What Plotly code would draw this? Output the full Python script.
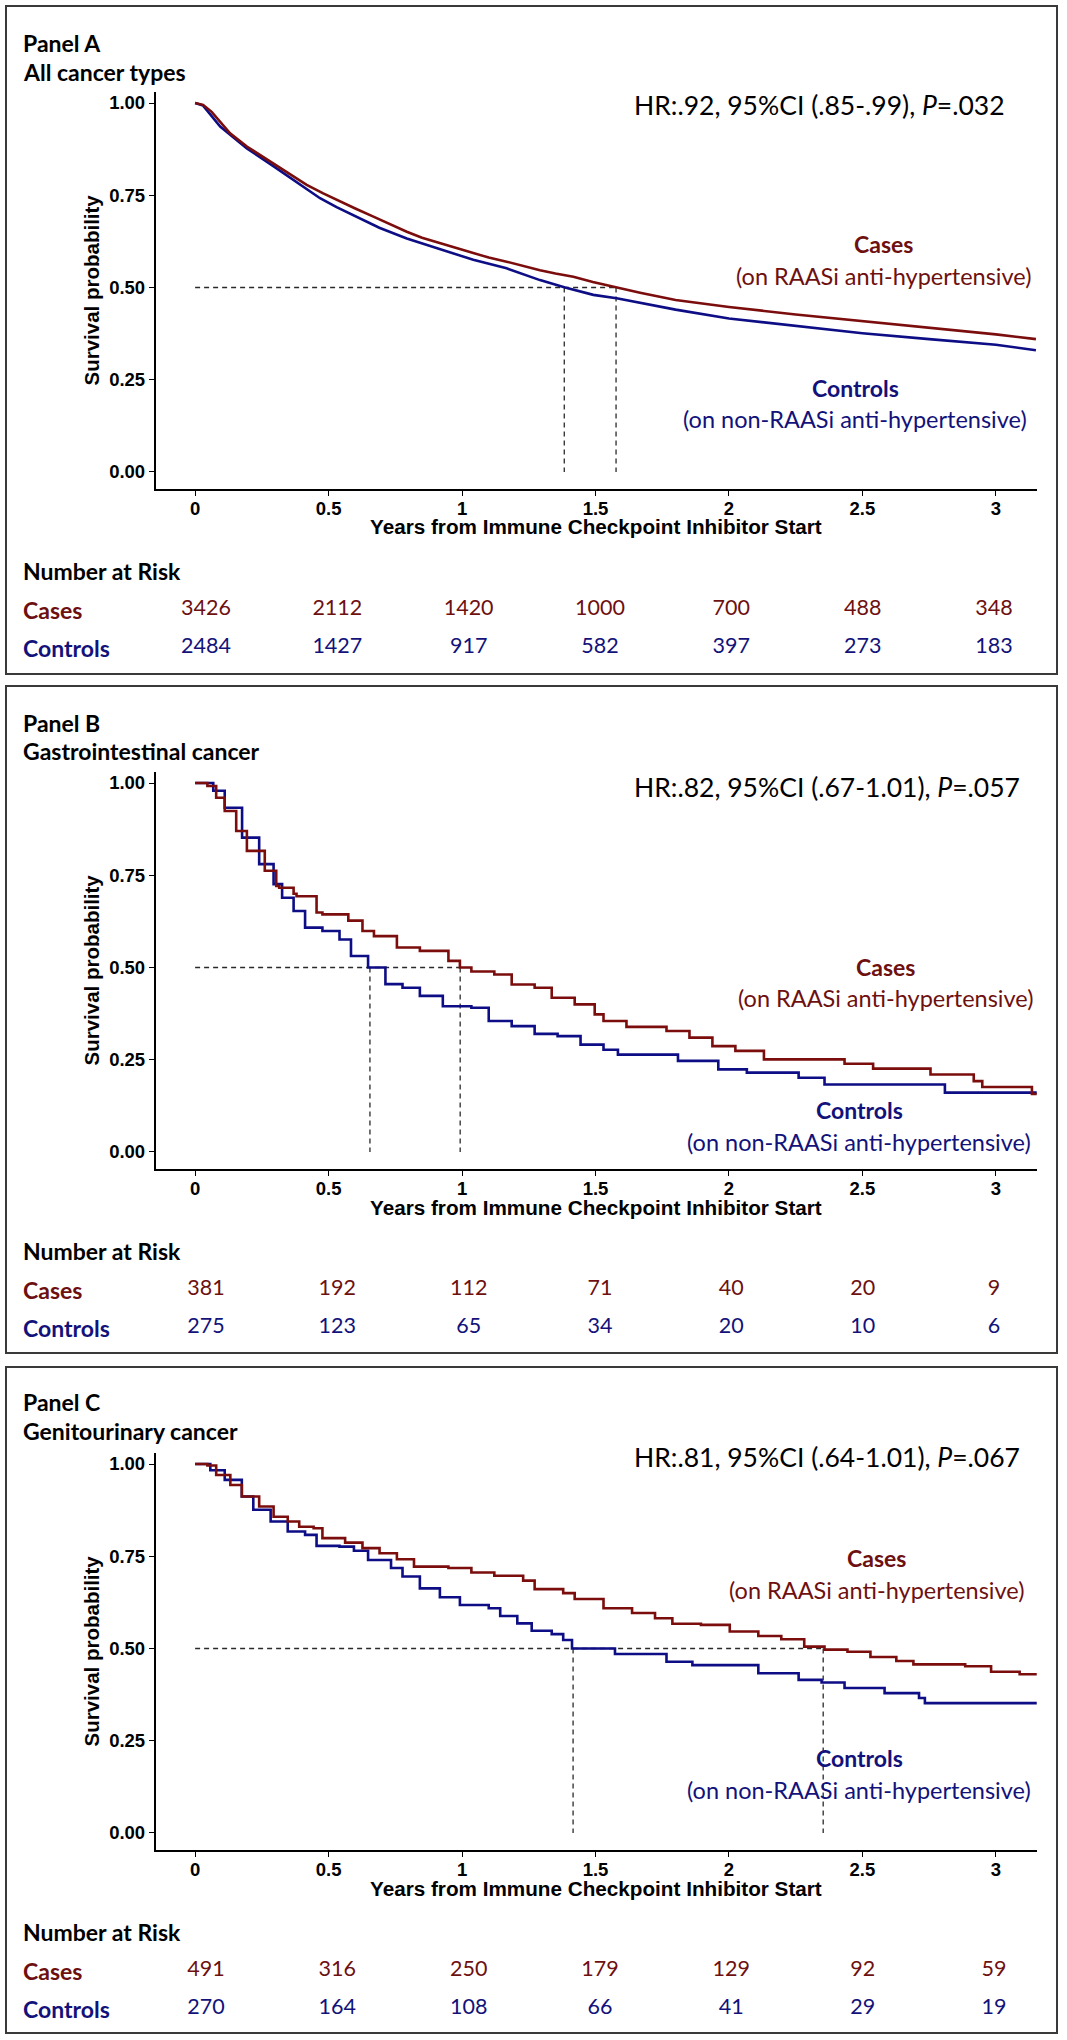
import plotly.graph_objects as go

W, H = 1067, 2040

# ---------------- data ----------------
panel_titles = ["Panel A", "Panel B", "Panel C"]
panel_subtitles = ["All cancer types", "Gastrointestinal cancer", "Genitourinary cancer"]
hr_texts = ["HR:.92, 95%CI (.85-.99), <i>P</i>=.032",
            "HR:.82, 95%CI (.67-1.01), <i>P</i>=.057",
            "HR:.81, 95%CI (.64-1.01), <i>P</i>=.067"]
group_names = ["Cases", "Controls"]
group_desc = ["(on RAASi anti-hypertensive)", "(on non-RAASi anti-hypertensive)"]

x_ticks = [0, 0.5, 1, 1.5, 2, 2.5, 3]
x_ticklabels = ["0", "0.5", "1", "1.5", "2", "2.5", "3"]
y_ticks = [0, 0.25, 0.5, 0.75, 1.0]
y_ticklabels = ["0.00", "0.25", "0.50", "0.75", "1.00"]
risk_times = [0, 0.5, 1, 1.5, 2, 2.5, 3]

# Panel A (all cancer types)
a_cases_t = [0, 0.03, 0.062, 0.10, 0.131, 0.194, 0.25, 0.293, 0.35, 0.418, 0.48, 0.543, 0.60, 0.668,
             0.73, 0.793, 0.85, 0.918, 0.98, 1.042, 1.10, 1.167, 1.23, 1.292, 1.35, 1.417, 1.49,
             1.567, 1.62, 1.667, 1.8, 2.0, 2.25, 2.5, 2.75, 3.0, 3.15]
a_cases_s = [1.0, 0.995, 0.976, 0.945, 0.918, 0.882, 0.856, 0.837, 0.81, 0.778, 0.755, 0.733, 0.714, 0.692,
             0.671, 0.651, 0.635, 0.620, 0.606, 0.593, 0.581, 0.570, 0.558, 0.547, 0.538, 0.529, 0.515,
             0.502, 0.494, 0.486, 0.466, 0.447, 0.427, 0.409, 0.39, 0.373, 0.36]
a_ctrl_t = [0, 0.03, 0.094, 0.194, 0.293, 0.38, 0.468, 0.53, 0.593, 0.69, 0.793, 0.92, 1.042, 1.167,
            1.292, 1.386, 1.492, 1.579, 1.66, 1.8, 2.0, 2.25, 2.5, 2.75, 3.0, 3.15]
a_ctrl_s = [1.0, 0.993, 0.936, 0.877, 0.829, 0.785, 0.742, 0.718, 0.696, 0.662, 0.633, 0.603, 0.575, 0.552,
            0.520, 0.500, 0.480, 0.471, 0.459, 0.44, 0.416, 0.395, 0.376, 0.36, 0.345, 0.33]
a_medians = [1.383, 1.577]
a_risk_cases = [3426, 2112, 1420, 1000, 700, 488, 348]
a_risk_ctrl = [2484, 1427, 917, 582, 397, 273, 183]

# Panel B (gastrointestinal)
b_cases_t = [0, 0.046, 0.079, 0.111, 0.154, 0.194, 0.261, 0.304, 0.315, 0.369, 0.38, 0.455, 0.477, 0.574,
             0.627, 0.670, 0.756, 0.842, 0.949, 0.992, 1.035, 1.121, 1.186, 1.272, 1.336, 1.422, 1.497,
             1.530, 1.616, 1.766, 1.852, 1.938, 2.024, 2.131, 2.433, 2.540, 2.755, 2.917, 2.949, 3.135, 3.153]
b_cases_s = [1.0, 0.992, 0.960, 0.924, 0.870, 0.816, 0.762, 0.721, 0.716, 0.700, 0.693, 0.649, 0.644, 0.627,
             0.599, 0.585, 0.554, 0.545, 0.518, 0.500, 0.489, 0.481, 0.454, 0.445, 0.418, 0.400, 0.373,
             0.355, 0.339, 0.328, 0.310, 0.287, 0.274, 0.251, 0.239, 0.226, 0.210, 0.192, 0.176, 0.157, 0.157]
b_ctrl_t = [0, 0.068, 0.111, 0.176, 0.240, 0.294, 0.326, 0.369, 0.412, 0.477, 0.541, 0.584, 0.648, 0.713,
            0.777, 0.842, 0.928, 1.035, 1.100, 1.186, 1.272, 1.358, 1.444, 1.530, 1.584, 1.809, 1.960,
            2.067, 2.261, 2.358, 2.809, 3.153]
b_ctrl_s = [1.0, 0.979, 0.933, 0.852, 0.780, 0.726, 0.689, 0.653, 0.608, 0.599, 0.576, 0.531, 0.500, 0.455,
            0.445, 0.423, 0.395, 0.391, 0.355, 0.341, 0.320, 0.314, 0.291, 0.277, 0.264, 0.247, 0.224,
            0.215, 0.201, 0.183, 0.161, 0.161]
b_medians = [0.655, 0.993]
b_risk_cases = [381, 192, 112, 71, 40, 20, 9]
b_risk_ctrl = [275, 123, 65, 34, 20, 10, 6]

# Panel C (genitourinary)
c_cases_t = [0, 0.046, 0.079, 0.132, 0.175, 0.240, 0.294, 0.347, 0.390, 0.444, 0.477, 0.562, 0.627, 0.691,
             0.756, 0.820, 0.949, 1.035, 1.121, 1.229, 1.272, 1.379, 1.422, 1.530, 1.637, 1.723, 1.788,
             1.895, 2.003, 2.110, 2.196, 2.282, 2.358, 2.444, 2.530, 2.627, 2.691, 2.885, 2.982, 3.089, 3.153]
c_cases_s = [1.0, 0.996, 0.970, 0.943, 0.912, 0.885, 0.857, 0.844, 0.830, 0.826, 0.799, 0.787, 0.772, 0.758,
             0.742, 0.722, 0.718, 0.706, 0.697, 0.684, 0.661, 0.650, 0.634, 0.609, 0.596, 0.582, 0.567,
             0.564, 0.546, 0.534, 0.525, 0.505, 0.497, 0.491, 0.477, 0.466, 0.457, 0.452, 0.437, 0.430, 0.430]
c_ctrl_t = [0, 0.057, 0.111, 0.175, 0.218, 0.283, 0.347, 0.412, 0.455, 0.541, 0.595, 0.648, 0.734, 0.777,
            0.842, 0.917, 0.992, 1.100, 1.143, 1.207, 1.261, 1.336, 1.379, 1.412, 1.573, 1.766, 1.863,
            2.110, 2.261, 2.347, 2.433, 2.583, 2.712, 2.734, 3.153]
c_ctrl_s = [1.0, 0.983, 0.957, 0.912, 0.876, 0.844, 0.817, 0.808, 0.778, 0.776, 0.765, 0.740, 0.718, 0.695,
            0.663, 0.639, 0.618, 0.609, 0.588, 0.568, 0.548, 0.539, 0.523, 0.500, 0.485, 0.464, 0.455,
            0.433, 0.415, 0.408, 0.393, 0.379, 0.366, 0.352, 0.352]
c_medians = [1.416, 2.353]
c_risk_cases = [491, 316, 250, 179, 129, 92, 59]
c_risk_ctrl = [270, 164, 108, 66, 41, 29, 19]

panels = [
    dict(ct=a_cases_t, cs=a_cases_s, kt=a_ctrl_t, ks=a_ctrl_s, med=a_medians,
         rc=a_risk_cases, rk=a_risk_ctrl, shape="linear"),
    dict(ct=b_cases_t, cs=b_cases_s, kt=b_ctrl_t, ks=b_ctrl_s, med=b_medians,
         rc=b_risk_cases, rk=b_risk_ctrl, shape="hv"),
    dict(ct=c_cases_t, cs=c_cases_s, kt=c_ctrl_t, ks=c_ctrl_s, med=c_medians,
         rc=c_risk_cases, rk=c_risk_ctrl, shape="hv"),
]

# ---------------- style / layout ----------------
CAL = "Lato, Carlito, Calibri, sans-serif"
ARIAL = "Liberation Sans, Arial, sans-serif"
CASE_LINE = "#7b0d0d"
CTRL_LINE = "#0d0d85"
CASE_TXT = "#6e1010"
CTRL_TXT = "#12127a"

panel_top = [6, 686, 1367]
panel_bottom = [674, 1353, 2033]
heading_y = [(43, 72), (723, 751), (1402, 1431)]
hr_y = [105, 787, 1457]
case_lab = [(883, 244, 276), (885, 967, 998), (876, 1558, 1590)]
ctrl_lab = [(855, 388, 419), (859, 1110, 1142), (859, 1758, 1790)]

X_LEFT, X_RIGHT = 155.6, 1037.0
X_RANGE = [-0.148, 3.154]
TBL_RANGE = [-0.1919, 3.1637]


def px(x):
    return x / W


def py(y):
    return 1 - y / H


fig = go.Figure()
layout = dict(width=W, height=H, margin=dict(l=0, r=0, t=0, b=0),
              paper_bgcolor="white", plot_bgcolor="white", showlegend=False,
              annotations=[], shapes=[])

tickfont = dict(family=ARIAL, size=18.5, color="black", weight="bold")

for i, p in enumerate(panels):
    T = panel_top[i]
    xa, ya = f"x{i + 1}", f"y{i + 1}"
    xt, yt = f"x{i + 4}", f"y{i + 4}"

    # main axes
    layout[f"xaxis{i + 1}"] = dict(
        domain=[px(X_LEFT), px(X_RIGHT)], anchor=ya, range=X_RANGE,
        tickvals=x_ticks, ticktext=x_ticklabels, showline=True, linecolor="black", linewidth=1.5,
        ticks="outside", ticklen=5, tickwidth=1.3, tickcolor="black", ticklabelstandoff=-3,
        tickfont=tickfont, showgrid=False, zeroline=False, fixedrange=True)
    layout[f"yaxis{i + 1}"] = dict(
        domain=[py(T + 483), py(T + 86)], anchor=xa, range=[-0.0461, 1.0298],
        tickvals=y_ticks, ticktext=y_ticklabels, showline=True, linecolor="black", linewidth=1.5,
        ticks="outside", ticklen=5, tickwidth=1.3, tickcolor="black",
        tickfont=tickfont, showgrid=False, zeroline=False, fixedrange=True)
    # risk-table axes
    layout[f"xaxis{i + 4}"] = dict(domain=[px(X_LEFT), px(X_RIGHT)], anchor=yt, range=TBL_RANGE,
                                   visible=False, fixedrange=True)
    layout[f"yaxis{i + 4}"] = dict(domain=[py(T + 661), py(T + 585)], anchor=xt, range=[0, 2],
                                   visible=False, fixedrange=True)

    # curves
    fig.add_trace(go.Scatter(x=p["kt"], y=p["ks"], mode="lines", xaxis=xa, yaxis=ya,
                             line=dict(color=CTRL_LINE, width=2.6, shape=p["shape"]), hoverinfo="skip"))
    fig.add_trace(go.Scatter(x=p["ct"], y=p["cs"], mode="lines", xaxis=xa, yaxis=ya,
                             line=dict(color=CASE_LINE, width=2.6, shape=p["shape"]), hoverinfo="skip"))

    # median lines
    dash = dict(color="#2a2a2a", width=1.3, dash="5px,4px")
    layout["shapes"].append(dict(type="line", xref=xa, yref=ya, x0=0, x1=max(p["med"]), y0=0.5, y1=0.5,
                                 line=dash, layer="below"))
    for m in p["med"]:
        layout["shapes"].append(dict(type="line", xref=xa, yref=ya, x0=m, x1=m, y0=0.5, y1=0,
                                     line=dash, layer="below"))

    # risk table numbers
    fig.add_trace(go.Scatter(x=risk_times, y=[1.5] * len(risk_times), mode="text", xaxis=xt, yaxis=yt,
                             text=[str(v) for v in p["rc"]], hoverinfo="skip",
                             textfont=dict(family=CAL, size=21.5, color=CASE_TXT)))
    fig.add_trace(go.Scatter(x=risk_times, y=[0.5] * len(risk_times), mode="text", xaxis=xt, yaxis=yt,
                             text=[str(v) for v in p["rk"]], hoverinfo="skip",
                             textfont=dict(family=CAL, size=21.5, color=CTRL_TXT)))

    # panel border
    layout["shapes"].append(dict(type="rect", xref="paper", yref="paper", x0=px(6), x1=px(1057),
                                 y0=py(panel_bottom[i]), y1=py(T), line=dict(color="#3a3a3a", width=2)))

    ann = layout["annotations"]
    hy, sy = heading_y[i]
    ann.append(dict(text=panel_titles[i], x=px(21), y=py(hy), xref="paper", yref="paper",
                    xanchor="left", yanchor="middle", showarrow=False,
                    font=dict(family=CAL, size=23, color="black", weight="bold")))
    ann.append(dict(text=panel_subtitles[i], x=px(21), y=py(sy), xref="paper", yref="paper",
                    xanchor="left", yanchor="middle", showarrow=False,
                    font=dict(family=CAL, size=23, color="black", weight="bold")))
    ann.append(dict(text=hr_texts[i], x=px(632), y=py(hr_y[i]), xref="paper", yref="paper",
                    xanchor="left", yanchor="middle", showarrow=False,
                    font=dict(family=CAL, size=26.5, color="black")))
    # axis titles
    ann.append(dict(text="Survival probability", x=px(91), y=py(T + 284.5), xref="paper", yref="paper",
                    xanchor="center", yanchor="middle", textangle=-90, showarrow=False,
                    font=dict(family=ARIAL, size=20.5, color="black", weight="bold")))
    ann.append(dict(text="Years from Immune Checkpoint Inhibitor Start", x=px(596), y=py(T + 521),
                    xref="paper", yref="paper", xanchor="center", yanchor="middle", showarrow=False,
                    font=dict(family=ARIAL, size=20.7, color="black", weight="bold")))
    # group labels on plot
    cx, cy1, cy2 = case_lab[i]
    ann.append(dict(text=group_names[0], x=px(cx), y=py(cy1), xref="paper", yref="paper",
                    xanchor="center", yanchor="middle", showarrow=False,
                    font=dict(family=CAL, size=23, color=CASE_TXT, weight="bold")))
    ann.append(dict(text=group_desc[0], x=px(cx), y=py(cy2), xref="paper", yref="paper",
                    xanchor="center", yanchor="middle", showarrow=False,
                    font=dict(family=CAL, size=23.5, color=CASE_TXT)))
    kx, ky1, ky2 = ctrl_lab[i]
    ann.append(dict(text=group_names[1], x=px(kx), y=py(ky1), xref="paper", yref="paper",
                    xanchor="center", yanchor="middle", showarrow=False,
                    font=dict(family=CAL, size=23, color=CTRL_TXT, weight="bold")))
    ann.append(dict(text=group_desc[1], x=px(kx), y=py(ky2), xref="paper", yref="paper",
                    xanchor="center", yanchor="middle", showarrow=False,
                    font=dict(family=CAL, size=23.5, color=CTRL_TXT)))
    # risk table row labels
    ann.append(dict(text="Number at Risk", x=px(21), y=py(T + 565), xref="paper", yref="paper",
                    xanchor="left", yanchor="middle", showarrow=False,
                    font=dict(family=CAL, size=23, color="black", weight="bold")))
    ann.append(dict(text=group_names[0], x=px(21), y=py(T + 604), xref="paper", yref="paper",
                    xanchor="left", yanchor="middle", showarrow=False,
                    font=dict(family=CAL, size=23, color=CASE_TXT, weight="bold")))
    ann.append(dict(text=group_names[1], x=px(21), y=py(T + 642), xref="paper", yref="paper",
                    xanchor="left", yanchor="middle", showarrow=False,
                    font=dict(family=CAL, size=23, color=CTRL_TXT, weight="bold")))

fig.update_layout(**layout)
# remove the browser's default 8px page margin so the figure sits at the window's corner
fig.write_html("out.html", config={"displayModeBar": False},
               post_script="document.body.style.margin='0px';")
